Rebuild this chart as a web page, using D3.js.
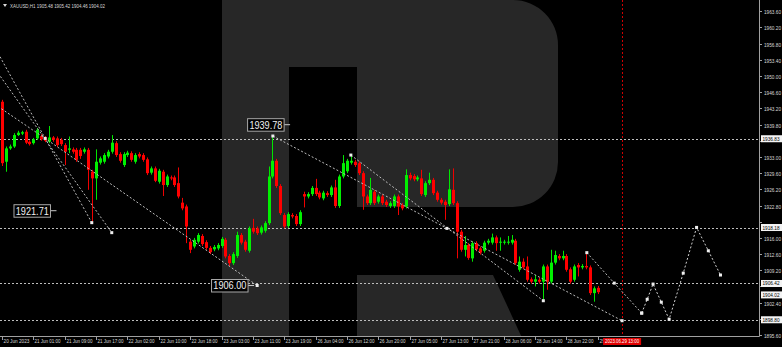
<!DOCTYPE html>
<html>
<head>
<meta charset="utf-8">
<script src="https://cdn.jsdelivr.net/npm/d3@7"></script>
<style>
html, body { margin: 0; padding: 0; background: #000; overflow: hidden; }
svg { display: block; }
text { font-family: "Liberation Sans", Arial, sans-serif; }
</style>
</head>
<body>
<div id="chart"></div>
<script>
var width = 782;
var height = 347;
var plotRight = 759;
var plotBottom = 336;

// XAUUSD H1 bars, oldest first
var opens = [
  1944.6, 1932.0, 1934.8, 1935.2, 1937.6, 1937.9, 1938.3, 1936.2, 1935.9, 1936.9,
  1937.4, 1937.1, 1936.2, 1937.1, 1936.9, 1936.6, 1935.5, 1934.5, 1934.6, 1934.5,
  1934.5, 1934.1, 1934.5, 1929.9, 1928.5, 1931.8, 1932.0, 1933.1, 1934.1, 1935.9,
  1933.6, 1931.3, 1933.4, 1933.8, 1932.0, 1933.6, 1933.4, 1932.5, 1929.7, 1930.6,
  1927.8, 1929.9, 1927.1, 1928.7, 1928.7, 1927.5, 1923.4, 1922.6, 1915.2, 1914.2,
  1915.2, 1916.4, 1915.1, 1913.9, 1913.6, 1913.8, 1914.3, 1915.6, 1912.2, 1910.7,
  1912.2, 1916.6, 1915.2, 1913.3, 1918.1, 1918.0, 1917.1, 1917.5, 1919.1, 1928.9,
  1932.2, 1926.9, 1920.8, 1918.5, 1920.8, 1920.6, 1918.9, 1925.2, 1924.7, 1925.2,
  1926.5, 1925.5, 1924.3, 1925.4, 1925.0, 1926.6, 1922.7, 1928.9, 1930.0, 1931.8,
  1932.0, 1931.7, 1929.6, 1924.7, 1923.3, 1925.7, 1923.6, 1924.7, 1923.6, 1922.7,
  1922.7, 1924.7, 1922.9, 1922.6, 1929.2, 1929.0, 1928.3, 1928.5, 1925.0, 1927.5,
  1928.2, 1925.5, 1924.0, 1923.6, 1923.1, 1926.1, 1923.3, 1917.3, 1913.5, 1914.5,
  1911.7, 1914.9, 1913.8, 1913.3, 1915.0, 1915.0, 1916.1, 1915.0, 1915.0, 1915.0,
  1915.0, 1915.4, 1909.3, 1911.0, 1910.0, 1907.3, 1906.8, 1907.2, 1906.8, 1910.0,
  1906.8, 1910.8, 1912.2, 1911.7, 1912.2, 1909.4, 1907.2, 1910.3, 1909.8, 1910.1,
  1909.8, 1904.4, 1905.5
];
var highs = [
  1945.0, 1935.2, 1935.6, 1938.0, 1938.5, 1938.5, 1938.7, 1936.5, 1937.0, 1939.1,
  1937.8, 1937.4, 1939.5, 1937.4, 1937.3, 1937.0, 1935.9, 1937.3, 1935.0, 1934.9,
  1934.9, 1935.0, 1934.9, 1930.3, 1934.6, 1933.1, 1933.8, 1934.5, 1937.6, 1936.3,
  1934.0, 1934.0, 1934.3, 1934.2, 1933.8, 1934.0, 1933.8, 1932.9, 1931.0, 1931.0,
  1930.5, 1930.3, 1929.3, 1929.1, 1929.1, 1930.8, 1924.4, 1923.0, 1915.6, 1916.0,
  1917.0, 1916.8, 1915.5, 1914.3, 1914.5, 1914.9, 1916.2, 1916.0, 1912.6, 1913.0,
  1917.3, 1917.0, 1915.6, 1918.4, 1920.0, 1918.4, 1918.6, 1919.5, 1931.0, 1937.4,
  1932.6, 1927.3, 1921.2, 1921.4, 1921.2, 1921.0, 1921.8, 1925.7, 1925.6, 1926.9,
  1928.4, 1925.9, 1925.9, 1925.8, 1927.0, 1928.2, 1929.3, 1933.4, 1932.6, 1933.4,
  1932.4, 1932.1, 1930.0, 1925.1, 1928.6, 1926.1, 1925.1, 1925.1, 1924.0, 1923.7,
  1925.1, 1925.1, 1923.3, 1930.4, 1929.7, 1929.4, 1929.1, 1930.3, 1927.9, 1929.7,
  1928.6, 1925.9, 1924.4, 1924.0, 1930.4, 1930.6, 1923.7, 1917.7, 1916.4, 1914.9,
  1915.3, 1915.3, 1914.2, 1915.4, 1915.8, 1916.9, 1916.5, 1916.1, 1915.6, 1916.4,
  1916.6, 1915.8, 1912.1, 1911.7, 1912.1, 1907.7, 1908.2, 1907.6, 1910.4, 1910.4,
  1913.5, 1913.3, 1912.6, 1913.3, 1912.6, 1909.8, 1910.4, 1910.7, 1910.5, 1912.9,
  1910.2, 1905.8, 1905.9
];
var lows = [
  1931.1, 1929.9, 1934.5, 1934.9, 1937.4, 1937.6, 1935.7, 1935.4, 1935.6, 1936.6,
  1936.4, 1936.1, 1935.9, 1936.2, 1935.1, 1935.3, 1931.3, 1933.8, 1933.7, 1932.0,
  1932.6, 1933.7, 1926.1, 1919.4, 1924.0, 1931.4, 1931.6, 1932.7, 1933.7, 1933.0,
  1931.8, 1930.9, 1933.0, 1932.0, 1931.6, 1932.7, 1932.0, 1929.2, 1929.3, 1927.7,
  1927.4, 1924.8, 1926.7, 1928.1, 1926.7, 1924.3, 1921.8, 1914.9, 1912.8, 1913.8,
  1914.8, 1914.3, 1913.5, 1912.6, 1913.2, 1913.4, 1913.9, 1911.7, 1910.1, 1910.3,
  1911.8, 1914.6, 1913.1, 1912.9, 1916.9, 1916.6, 1916.7, 1917.1, 1918.7, 1928.5,
  1926.5, 1920.8, 1918.0, 1918.1, 1920.1, 1918.5, 1918.5, 1922.4, 1924.3, 1924.8,
  1924.8, 1924.1, 1923.9, 1924.6, 1924.6, 1922.3, 1922.3, 1928.5, 1929.6, 1931.4,
  1930.9, 1929.2, 1921.9, 1922.9, 1922.9, 1922.9, 1923.2, 1922.9, 1922.5, 1922.3,
  1922.3, 1920.8, 1921.8, 1922.2, 1928.1, 1927.9, 1927.9, 1924.8, 1924.6, 1927.1,
  1925.0, 1923.6, 1923.0, 1919.8, 1922.7, 1922.9, 1911.7, 1913.1, 1912.1, 1911.4,
  1911.0, 1913.2, 1912.5, 1912.9, 1914.6, 1914.6, 1913.3, 1913.3, 1914.6, 1914.6,
  1914.6, 1910.3, 1908.9, 1909.4, 1906.8, 1906.4, 1905.8, 1906.4, 1903.0, 1905.1,
  1906.4, 1910.4, 1911.3, 1911.3, 1908.9, 1906.4, 1906.8, 1907.9, 1909.4, 1909.4,
  1904.0, 1902.6, 1904.2
];
var closes = [
  1931.7, 1934.8, 1935.2, 1937.6, 1938.1, 1938.2, 1936.0, 1935.7, 1936.7, 1938.7,
  1936.7, 1936.4, 1937.1, 1936.6, 1935.5, 1935.7, 1934.1, 1934.8, 1934.1, 1932.4,
  1933.2, 1934.6, 1930.3, 1928.5, 1932.0, 1932.7, 1933.4, 1934.1, 1936.0, 1933.4,
  1932.2, 1933.6, 1933.9, 1932.4, 1933.4, 1933.1, 1932.4, 1929.6, 1930.6, 1928.0,
  1930.1, 1927.1, 1928.9, 1928.5, 1927.1, 1924.7, 1922.2, 1918.4, 1913.5, 1915.6,
  1916.6, 1914.7, 1913.9, 1913.0, 1914.1, 1914.5, 1915.8, 1912.1, 1910.7, 1912.6,
  1916.6, 1915.0, 1913.5, 1918.0, 1917.3, 1917.0, 1918.2, 1919.1, 1928.9, 1932.2,
  1926.9, 1921.2, 1918.4, 1921.0, 1920.5, 1918.9, 1921.4, 1924.7, 1925.2, 1926.5,
  1925.2, 1924.5, 1925.5, 1925.0, 1926.6, 1922.7, 1928.9, 1931.7, 1932.2, 1932.2,
  1931.3, 1929.6, 1924.7, 1923.3, 1926.1, 1923.3, 1924.7, 1923.3, 1922.9, 1923.3,
  1924.7, 1922.6, 1922.2, 1929.2, 1928.5, 1928.3, 1928.7, 1925.2, 1927.5, 1928.2,
  1925.4, 1924.0, 1923.4, 1922.9, 1926.2, 1923.3, 1917.3, 1913.5, 1914.5, 1911.8,
  1914.9, 1913.6, 1912.9, 1915.0, 1915.4, 1916.1, 1914.9, 1915.2, 1915.2, 1915.2,
  1915.6, 1910.7, 1911.0, 1909.8, 1907.2, 1906.8, 1907.3, 1906.8, 1910.0, 1906.8,
  1910.8, 1912.4, 1911.7, 1912.2, 1909.3, 1906.8, 1910.0, 1909.8, 1910.1, 1909.8,
  1904.4, 1905.4, 1904.6
];

// time axis (bar index of each label)
var timeTicks = [0, 8, 16, 24, 32, 40, 48, 56, 64, 72, 80, 88, 96, 104, 112, 120, 128, 136, 144, 152];
var timeLabels = ['20 Jun 2023', '21 Jun 01:00', '21 Jun 09:00', '21 Jun 17:00', '22 Jun 02:00',
  '22 Jun 10:00', '22 Jun 18:00', '23 Jun 03:00', '23 Jun 11:00', '23 Jun 19:00', '26 Jun 04:00',
  '26 Jun 12:00', '26 Jun 20:00', '27 Jun 05:00', '27 Jun 13:00', '27 Jun 21:00', '28 Jun 06:00',
  '28 Jun 14:00', '28 Jun 22:00', '29'];

var priceTicks = [1963.6, 1960.2, 1956.8, 1953.4, 1950.0, 1946.6, 1943.2, 1939.8, 1936.4, 1933.0,
  1929.6, 1926.2, 1922.8, 1919.4, 1916.0, 1912.6, 1909.2, 1905.8, 1902.4, 1899.0, 1895.6];

// horizontal levels and their axis labels
var levelPrices = [1936.83, 1918.18, 1906.42, 1898.80];
var lastPrice = 1904.02;

// text notes on the chart (anchor bar index, price)
var noteIdx = [13.9, 73.5, 64.3];
var notePrices = [1921.71, 1939.78, 1906.00];

// dotted trend lines, points as [bar index, price]
var trendLines = [
  [[-1, 1954.8], [22.9, 1919.2]],
  [[-1, 1950.6], [28.0, 1917.1]],
  [[-1, 1943.6], [11.0, 1936.9], [65.1, 1906.0]],
  [[69.1, 1937.4], [113.5, 1918.0], [158.2, 1898.6]],
  [[89.0, 1933.4], [138.1, 1902.8]],
  [[149.2, 1912.9], [156.2, 1906.5], [163.2, 1900.2]]
];

// forecast path
var forecastIdx = [163.2, 164.6, 166.1, 168.2, 170.2, 173.8, 177.2, 180.2, 183.3];
var forecastPrices = [1900.2, 1903.1, 1906.3, 1902.5, 1898.9, 1908.6, 1918.2, 1913.3, 1908.2];

var splitIdx = 158.2;
var splitLabel = '2023.06.29 13:00';
var header = 'XAUUSD,H1  1905.48 1905.42 1904.46 1904.02';

var svg = d3.select('#chart')
  .append('svg')
  .attr('width', width)
  .attr('height', height);

svg.append('rect').attr('width', width).attr('height', height).attr('fill', '#000');

svg.append('clipPath').attr('id', 'plot')
  .append('rect').attr('x', 0).attr('y', 0).attr('width', plotRight).attr('height', plotBottom);

var x = d3.scaleLinear().domain([0, 152]).range([2, 597.8]);
var y = d3.scaleLinear().domain([1895.6, 1963.6]).range([335, 11.3]);

var plot = svg.append('g').attr('clip-path', 'url(#plot)');

// watermark "R"
var mark = plot.append('g').attr('fill', '#272727');
mark.append('rect').attr('x', 222).attr('y', 0).attr('width', 67).attr('height', plotBottom);
mark.append('path').attr('d', 'M289,0 H513 A45,45 0 0 1 558,45 V162 A45,45 0 0 1 513,207 H357 V67 H289 Z');
mark.append('path').attr('d', 'M357,275 H493 L523,340 H357 Z');

// horizontal levels
plot.selectAll('.level')
  .data(levelPrices)
  .enter()
  .append('line')
  .attr('x1', 0).attr('x2', plotRight)
  .attr('y1', d => Math.round(y(d)) + 0.5).attr('y2', d => Math.round(y(d)) + 0.5)
  .attr('stroke', '#bdbdbd').attr('stroke-dasharray', '2,2');

// vertical split line
plot.append('line')
  .attr('x1', Math.round(x(splitIdx)) + 0.5).attr('x2', Math.round(x(splitIdx)) + 0.5)
  .attr('y1', 0).attr('y2', plotBottom)
  .attr('stroke', '#d00000').attr('stroke-dasharray', '2,2');

// candles
var bars = d3.range(opens.length);
plot.selectAll('.wick')
  .data(bars)
  .enter()
  .append('line')
  .attr('x1', i => Math.round(x(i)) + 0.5).attr('x2', i => Math.round(x(i)) + 0.5)
  .attr('y1', i => y(highs[i])).attr('y2', i => y(lows[i]))
  .attr('stroke', i => closes[i] >= opens[i] ? '#00e600' : '#f00000')
  .attr('stroke-width', 1);

plot.selectAll('.body')
  .data(bars)
  .enter()
  .append('rect')
  .attr('x', i => Math.round(x(i)) - 1)
  .attr('y', i => y(Math.max(opens[i], closes[i])))
  .attr('width', 3)
  .attr('height', i => Math.max(1, Math.abs(y(opens[i]) - y(closes[i]))))
  .attr('fill', i => closes[i] >= opens[i] ? '#00f000' : '#ff0000');

// trend lines
var lineGen = d3.line().x(d => x(d[0])).y(d => y(d[1]));
plot.selectAll('.trend')
  .data(trendLines)
  .enter()
  .append('path')
  .attr('d', lineGen)
  .attr('fill', 'none')
  .attr('stroke', '#bcbcbc')
  .attr('stroke-dasharray', '2,2');

var forecast = forecastIdx.map((d, i) => [d, forecastPrices[i]]);
plot.append('path')
  .attr('d', lineGen(forecast))
  .attr('fill', 'none')
  .attr('stroke', '#d0d0d0')
  .attr('stroke-dasharray', '2,2');

var points = [];
trendLines.forEach(l => l.forEach(p => { if (p[0] >= 0) points.push(p); }));
forecast.forEach(p => points.push(p));
plot.selectAll('.pt')
  .data(points)
  .enter()
  .append('rect')
  .attr('x', d => x(d[0]) - 1.5).attr('y', d => y(d[1]) - 1.5)
  .attr('width', 3).attr('height', 3)
  .attr('fill', '#eeeeee');

// notes
notePrices.forEach(function (p, i) {
  var ax = x(noteIdx[i]);
  var ay = y(p);
  plot.append('line')
    .attr('x1', ax - 6).attr('x2', ax).attr('y1', ay).attr('y2', ay)
    .attr('stroke', '#c8c8c8');
  plot.append('rect')
    .attr('x', ax - 42.5).attr('y', ay - 6)
    .attr('width', 36.5).attr('height', 12.5)
    .attr('fill', '#000').attr('stroke', '#a8a8a8');
  plot.append('text')
    .attr('x', ax - 24.2).attr('y', ay + 4)
    .attr('text-anchor', 'middle')
    .attr('fill', '#f0f0f0')
    .attr('font-size', '11px')
    .attr('textLength', 33).attr('lengthAdjust', 'spacingAndGlyphs')
    .text(p.toFixed(2));
});

// axes
svg.append('line')
  .attr('x1', plotRight + 0.5).attr('x2', plotRight + 0.5).attr('y1', 0).attr('y2', plotBottom + 0.5)
  .attr('stroke', '#a0a0a0');
svg.append('line')
  .attr('x1', 0).attr('x2', plotRight + 0.5).attr('y1', plotBottom + 0.5).attr('y2', plotBottom + 0.5)
  .attr('stroke', '#a0a0a0');

var boxes = levelPrices.concat([lastPrice]);

var yAxis = svg.append('g');
priceTicks.forEach(function (p) {
  var py = Math.round(y(p)) + 0.5;
  yAxis.append('line').attr('x1', plotRight).attr('x2', plotRight + 3).attr('y1', py).attr('y2', py)
    .attr('stroke', '#a0a0a0');
  // a level box covers the tick label
  var hidden = boxes.some(b => Math.abs(y(b) - py) < 6);
  if (hidden) return;
  yAxis.append('text').attr('x', plotRight + 5).attr('y', py + 2)
    .attr('fill', '#d8d8d8').attr('font-size', '5px')
    .attr('textLength', 17).attr('lengthAdjust', 'spacingAndGlyphs')
    .text(p.toFixed(2));
});

var xAxis = svg.append('g');
timeTicks.forEach(function (t, i) {
  var px = Math.round(x(t)) + 0.5;
  xAxis.append('line').attr('x1', px).attr('x2', px).attr('y1', plotBottom).attr('y2', plotBottom + 4)
    .attr('stroke', '#a0a0a0');
  var lbl = xAxis.append('text').attr('x', px + 1).attr('y', plotBottom + 7)
    .attr('fill', '#d8d8d8').attr('font-size', '5px')
    .text(timeLabels[i]);
  if (timeLabels[i].length > 8) {
    lbl.attr('textLength', 26).attr('lengthAdjust', 'spacingAndGlyphs');
  }
});

// level boxes on the price axis
boxes.forEach(function (p) {
  var py = y(p);
  svg.append('rect').attr('x', plotRight + 2).attr('y', py - 3.5)
    .attr('width', 21).attr('height', 7).attr('fill', '#f4f4f4');
  svg.append('text').attr('x', plotRight + 3.5).attr('y', py + 2)
    .attr('fill', '#000').attr('font-size', '5px')
    .attr('textLength', 17).attr('lengthAdjust', 'spacingAndGlyphs')
    .text(p.toFixed(2));
});

// time box on the split line
var sx = x(splitIdx);
svg.append('rect').attr('x', sx - 19).attr('y', plotBottom + 2)
  .attr('width', 38).attr('height', 7).attr('fill', '#e00000');
svg.append('text').attr('x', sx).attr('y', plotBottom + 7.3)
  .attr('text-anchor', 'middle').attr('fill', '#fff').attr('font-size', '5px')
  .attr('textLength', 34).attr('lengthAdjust', 'spacingAndGlyphs')
  .text(splitLabel);

// header
svg.append('path').attr('d', 'M3,4 L7,4 L5,7 Z').attr('fill', '#d8d8d8');
svg.append('text').attr('x', 10).attr('y', 7.5)
  .attr('fill', '#d8d8d8').attr('font-size', '5px')
  .attr('textLength', 95).attr('lengthAdjust', 'spacingAndGlyphs')
  .text(header);
</script>
</body>
</html>
